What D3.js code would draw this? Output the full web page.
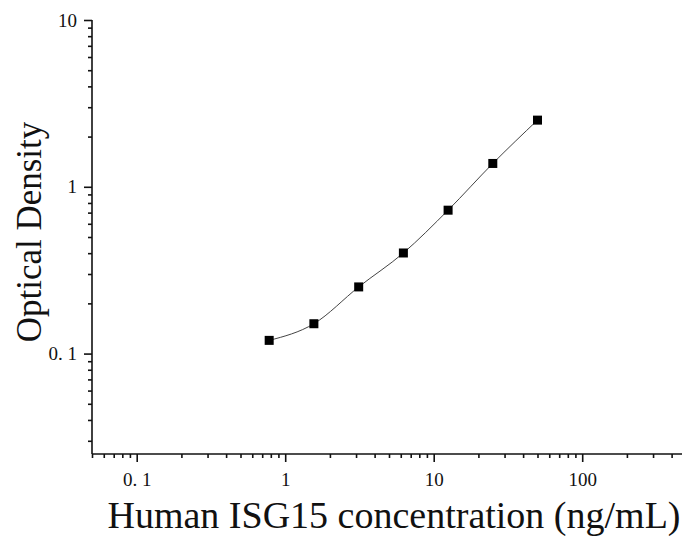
<!DOCTYPE html>
<html>
<head>
<meta charset="utf-8">
<script src="https://cdn.jsdelivr.net/npm/d3@7"></script>
<style>
  body { margin: 0; background: #fff; }
  svg { display: block; }
  text { font-family: "Liberation Serif", "Times New Roman", serif; fill: #111; }
</style>
</head>
<body>
<div id="chart"></div>
<script>
"use strict";

// standard curve values
const concentration = [0.78, 1.56, 3.125, 6.25, 12.5, 25, 50];
const opticalDensity = [0.12, 0.151, 0.251, 0.401, 0.724, 1.38, 2.51];

const xDecades = [0.1, 1, 10, 100];
const yDecades = [0.1, 1, 10];
const xDecadeLabels = ["0. 1", "1", "10", "100"];
const yDecadeLabels = ["0. 1", "1", "10"];

const cont = {
    width: 682,
    height: 536,
    left: 92,
    right: 686,
    top: 20,
    bottom: 454,
}

let svgContainer = d3.select("#chart")
    .append("svg")
    .attr("width", cont.width)
    .attr("height", cont.height);

let xScale = d3.scaleLog()
    .domain([0.05, 500])
    .range([cont.left, cont.right]);

let yScale = d3.scaleLog()
    .domain([0.025, 10])
    .range([cont.bottom, cont.top]);

function logTicks(scale) {
    let [lo, hi] = scale.domain();
    let out = [];
    for (let e = Math.floor(Math.log10(lo)); e <= Math.ceil(Math.log10(hi)); e++) {
        for (let m = 1; m <= 9; m++) {
            let v = m * Math.pow(10, e);
            if (v >= lo * 0.999 && v <= hi * 1.001) out.push(+v.toPrecision(6));
        }
    }
    return out;
}

function isDecade(v) {
    let l = Math.log10(v);
    return Math.abs(l - Math.round(l)) < 1e-6;
}

// x axis
let xAxis = d3.axisBottom(xScale)
    .tickValues(logTicks(xScale))
    .tickSize(8)
    .tickPadding(11)
    .tickFormat((d) => {
        let i = xDecades.findIndex((v) => Math.abs(v - d) < 1e-9);
        return i >= 0 ? xDecadeLabels[i] : "";
    });

let gx = svgContainer.append("g")
    .attr("transform", "translate(0," + cont.bottom + ")")
    .call(xAxis);
gx.select(".domain").attr("d", "M" + cont.left + ",0H" + cont.right);
gx.selectAll(".tick line").attr("y2", (d) => isDecade(d) ? 8 : 4);

// y axis
let yAxis = d3.axisLeft(yScale)
    .tickValues(logTicks(yScale))
    .tickSize(8)
    .tickPadding(7)
    .tickFormat((d) => {
        let i = yDecades.findIndex((v) => Math.abs(v - d) < 1e-9);
        return i >= 0 ? yDecadeLabels[i] : "";
    });

let gy = svgContainer.append("g")
    .attr("transform", "translate(" + cont.left + ",0)")
    .call(yAxis);
gy.select(".domain").attr("d", "M0," + cont.bottom + "V" + cont.top);
gy.selectAll(".tick line").attr("x2", (d) => isDecade(d) ? -8 : -4);

svgContainer.selectAll(".domain, .tick line")
    .attr("stroke", "#111")
    .attr("stroke-width", 1.6);
svgContainer.selectAll(".tick text")
    .attr("font-family", "Liberation Serif, serif")
    .attr("font-size", 19)
    .attr("fill", "#333");

// fitted curve through the standards
let points = concentration.map((c, i) => [c, opticalDensity[i]]);
svgContainer.append("path")
    .datum(points)
    .attr("fill", "none")
    .attr("stroke", "#444")
    .attr("stroke-width", 1)
    .attr("d", d3.line()
        .x((d) => xScale(d[0]))
        .y((d) => yScale(d[1]))
        .curve(d3.curveMonotoneX));

// square markers
const side = 9;
svgContainer.selectAll(".dot")
    .data(points)
    .enter()
    .append("rect")
    .attr("class", "dot")
    .attr("x", (d) => xScale(d[0]) - side / 2)
    .attr("y", (d) => yScale(d[1]) - side / 2)
    .attr("width", side)
    .attr("height", side)
    .attr("fill", "#000");

// labels
svgContainer.append("text")
    .attr("transform", "translate(41," + 232 + ") rotate(-90)")
    .attr("text-anchor", "middle")
    .attr("font-size", 35)
    .text("Optical Density");

svgContainer.append("text")
    .attr("x", 394)
    .attr("y", 528)
    .attr("text-anchor", "middle")
    .attr("font-size", 38)
    .text("Human ISG15 concentration (ng/mL)");
</script>
</body>
</html>
